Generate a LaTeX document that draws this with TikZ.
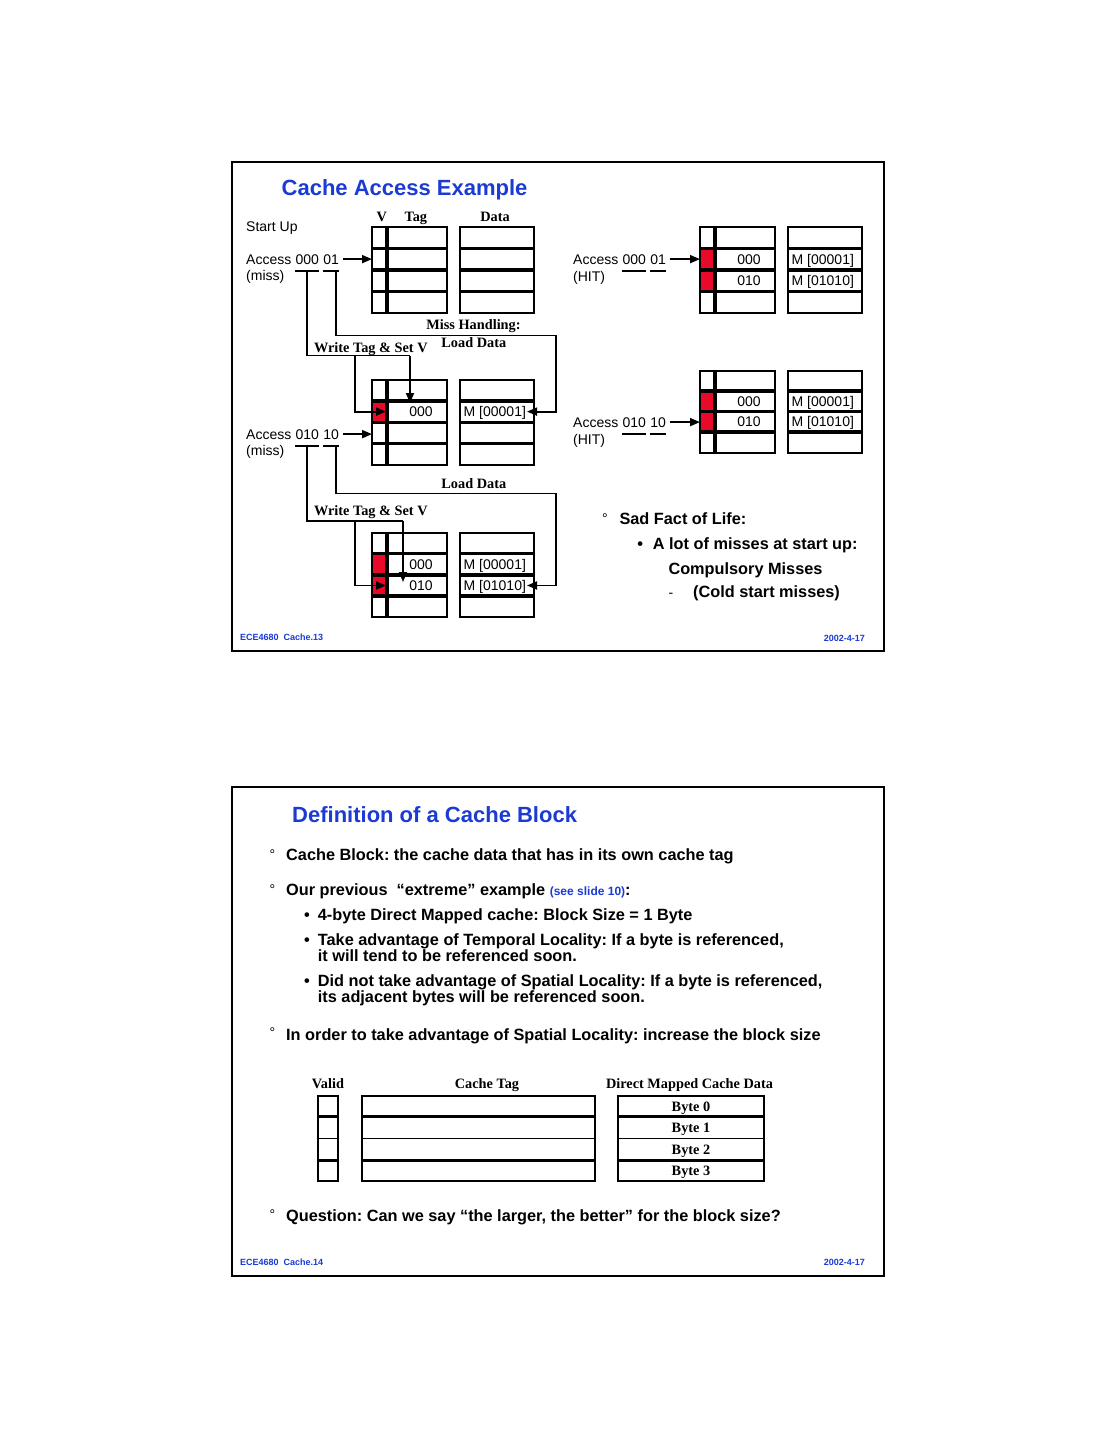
\documentclass[tikz,border=0pt]{standalone}
\usepackage{fontspec}
\setmainfont{Liberation Sans}
\newfontfamily\tms{Liberation Serif}
\usetikzlibrary{arrows.meta,positioning}
\definecolor{slideblue}{RGB}{28,58,212}
\definecolor{vred}{RGB}{232,10,40}
\frenchspacing

\tikzset{
  lbl/.style={inner sep=0pt,text depth=0pt,font=\fontsize{14}{16}\selectfont},
  bits/.style={lbl,outer ysep=7pt},
  hdr/.style={inner sep=0pt,text depth=0pt,font=\fontsize{14.3}{16}\selectfont\tms\bfseries},
  body/.style={inner sep=0pt,anchor=base west,font=\fontsize{16.3}{18}\selectfont\bfseries},
  dot/.style={inner sep=0pt,anchor=base west,font=\fontsize{14}{16}\selectfont},
  ttl/.style={inner sep=0pt,anchor=base west,text=slideblue,font=\fontsize{22}{24}\selectfont\bfseries},
  foot/.style={inner sep=0pt,text depth=0pt,text=slideblue,font=\fontsize{9}{10}\selectfont\bfseries},
  wire/.style={line width=1.8pt},
  arr/.style={wire,-{Triangle[length=10pt,width=8pt]}},
  slide/.style={line width=2pt},
  cellbox/.style={line width=2pt},
  rowline/.style={line width=3.5pt},
}

% cache table: name, left, top, row height, valid rows (0 = none)
\newcommand{\cachetab}[5]{%
  \foreach \r in {#5}{\ifnum\r>0 \fill[vred] (#2,#3+\r*#4-#4) rectangle (#2+15,#3+\r*#4);\fi}
  \foreach \r in {1,2,3}{
    \draw[rowline] (#2,#3+\r*#4) -- (#2+75,#3+\r*#4);
    \draw[rowline] (#2+88,#3+\r*#4) -- (#2+162,#3+\r*#4);}
  \draw[rowline,line width=4pt] (#2+15,#3) -- (#2+15,#3+4*#4);
  \draw[cellbox] (#2,#3) rectangle (#2+75,#3+4*#4);
  \draw[cellbox] (#2+88,#3) rectangle (#2+162,#3+4*#4);
  \foreach \r in {1,...,4}{
    \coordinate (#1w\r) at (#2,#3+\r*#4-.5*#4);
    \coordinate (#1v\r) at (#2+14,#3+\r*#4-.5*#4);
    \coordinate (#1t\r) at (#2+49,#3+\r*#4-.5*#4);
    \coordinate (#1d\r) at (#2+91.5,#3+\r*#4-.5*#4);
    \coordinate (#1e\r) at (#2+155,#3+\r*#4-.5*#4);}
}

\begin{document}
\begin{tikzpicture}[x=1pt,y=-1pt]
\fill[white] (0,0) rectangle (1113,1440);
\useasboundingbox (0,0) rectangle (1113,1440);

% ---- slide 13 ----
\draw[slide] (232,162) rectangle (883.5,650.5);
\node[ttl] (ttl1) at (281.5,195) {Cache Access Example};

\cachetab{t1}{372}{227}{21.5}{0}
\cachetab{t2}{372}{379.5}{21.4}{2}
\cachetab{t3}{372}{532.5}{21.2}{2,3}
\cachetab{t4}{700}{227}{21.5}{2,3}
\cachetab{t5}{700}{370.5}{20.5}{2,3}

\foreach \tb/\rw/\tg/\dt in {t2/2/000/00001,t3/2/000/00001,t3/3/010/01010,t4/2/000/00001,t4/3/010/01010,t5/2/000/00001,t5/3/010/01010}{
  \node[lbl] (\tb tag\rw) at (\tb t\rw) {\tg};
  \node[lbl,anchor=west] (\tb dat\rw) at (\tb d\rw) {M [\dt]};
}

\node[hdr] (hv) at (381.7,216.7) {V};
\node[hdr] (htag) at (415.8,216.7) {Tag};
\node[hdr] (hdata) at (495,216.7) {Data};

\node[lbl,anchor=base west] (su) at (246,231) {Start Up};

% first access, miss
\node[lbl,anchor=base west] (acc1) at (246,264) {Access};
\node[bits,base right=3.9pt of acc1] (acc1a) {000};
\node[bits,base right=3.9pt of acc1a] (acc1b) {01};
\node[lbl,anchor=base west] (res1) at (246,280.5) {(miss)};
\draw[wire] (acc1a.south west) -- (acc1a.south east);
\draw[wire] (acc1b.south west) -- (acc1b.south east);
\draw[arr,shorten <=4pt] (acc1b.east) -- (acc1b.east -| t1w2);

\coordinate (mh1) at (556,335.5);
\coordinate (wt1) at (410,355.5);
\coordinate (wb1) at (355,355.5);
\draw[arr] ([xshift=5pt]acc1b.south) |- (mh1) |- (t2e2);
\draw[wire] (acc1a.south) |- (wt1);
\draw[arr,shorten >=8.6pt] (wt1) -- (wt1 |- t2t2);
\draw[arr] (wb1) |- (t2v2);
\node[hdr] (mhl) at (473.5,325) {Miss Handling:};
\node[hdr] (ldl1) at (473.8,342.7) {Load Data};
\node[hdr] (wtl1) at (370.8,347.7) {Write Tag \& Set V};

% second access, miss
\node[lbl,anchor=base west] (acc2) at (246,439) {Access};
\node[bits,base right=3.9pt of acc2] (acc2a) {010};
\node[bits,base right=3.9pt of acc2a] (acc2b) {10};
\node[lbl,anchor=base west] (res2) at (246,455.5) {(miss)};
\draw[wire] (acc2a.south west) -- (acc2a.south east);
\draw[wire] (acc2b.south west) -- (acc2b.south east);
\draw[arr,shorten <=4pt] (acc2b.east) -- (acc2b.east -| t2w3);

\coordinate (ld2) at (556,493.5);
\coordinate (wt2) at (403,521);
\coordinate (wb2) at (355,521);
\draw[arr] ([xshift=5pt]acc2b.south) |- (ld2) |- (t3e3);
\draw[wire] (acc2a.south) |- (wt2);
\draw[arr,shorten >=3.5pt] (wt2) -- (wt2 |- t3t3);
\draw[arr] (wb2) |- (t3v3);
\node[hdr] (ldl2) at (473.8,483.3) {Load Data};
\node[hdr] (wtl2) at (370.8,510.7) {Write Tag \& Set V};

% hits
\node[lbl,anchor=base west] (acc4) at (573,264) {Access};
\node[bits,base right=3.9pt of acc4] (acc4a) {000};
\node[bits,base right=3.9pt of acc4a] (acc4b) {01};
\node[lbl,anchor=base west] (res4) at (573,281) {(HIT)};
\draw[wire] (acc4a.south west) -- (acc4a.south east);
\draw[wire] (acc4b.south west) -- (acc4b.south east);
\draw[arr,shorten <=4pt] (acc4b.east) -- (acc4b.east -| t4w2);

\node[lbl,anchor=base west] (acc5) at (573,427) {Access};
\node[bits,base right=3.9pt of acc5] (acc5a) {010};
\node[bits,base right=3.9pt of acc5a] (acc5b) {10};
\node[lbl,anchor=base west] (res5) at (573,444) {(HIT)};
\draw[wire] (acc5a.south west) -- (acc5a.south east);
\draw[wire] (acc5b.south west) -- (acc5b.south east);
\draw[arr,shorten <=4pt] (acc5b.east) -- (acc5b.east -| t5w3);

\node[dot] (sd0) at (602,523) {°};
\node[body] (sd1) at (619.3,524.5) {Sad Fact of Life:};
\node[body] (sd2b) at (637.2,549) {•};
\node[body] (sd2) at (652.7,549) {A lot of misses at start up:};
\node[body] (sd3) at (668.3,574) {Compulsory Misses};
\node[lbl,anchor=base west] (sd4b) at (668.5,597.5) {-};
\node[body] (sd4) at (693,597.5) {(Cold start misses)};

\node[foot,anchor=west] (f1l) at (240,637.5) {ECE4680~~Cache.13};
\node[foot,anchor=east] (f1r) at (865,638.5) {2002-4-17};

% ---- slide 14 ----
\draw[slide] (232,787) rectangle (883.5,1275.5);
\node[ttl] (ttl2) at (292,822) {Definition of a Cache Block};

\foreach \y/\n in {859/1,894/2,1037.5/3,1219.5/4}{\node[dot] (dg\n) at (269.5,\y) {°};}
\node[body] (p1) at (286,860.5) {Cache Block: the cache data that has in its own cache tag};
\node[body] (p2) at (286,895.5) {Our previous~~“extreme” example {\color{slideblue}\fontsize{12}{14}\selectfont(see slide 10)}:};
\foreach \y/\n in {920.5/1,945.5/2,986/3}{\node[body] (bl\n) at (303.8,\y) {•};}
\node[body] (p3) at (317.7,920.5) {4-byte Direct Mapped cache: Block Size = 1 Byte};
\node[body] (p4) at (317.7,945.5) {Take advantage of Temporal Locality: If a byte is referenced,};
\node[body] (p4c) at (317.7,961) {it will tend to be referenced soon.};
\node[body] (p5) at (317.7,986) {Did not take advantage of Spatial Locality: If a byte is referenced,};
\node[body] (p5c) at (317.7,1002) {its adjacent bytes will be referenced soon.};
\node[body] (p6) at (286,1040) {In order to take advantage of Spatial Locality: increase the block size};

\node[hdr] (hval) at (328,1084) {Valid};
\node[hdr] (hct) at (487,1084) {Cache Tag};
\node[hdr] (hdm) at (689.5,1084) {Direct Mapped Cache Data};
\foreach \a/\b in {318/337.5,361.5/595,618/764}{
  \draw[line width=3pt] (\a,1116.7) -- (\b,1116.7);
  \draw[line width=1.2pt] (\a,1138.5) -- (\b,1138.5);
  \draw[line width=3pt] (\a,1160.3) -- (\b,1160.3);
  \draw[cellbox] (\a,1096) rectangle (\b,1180.7);
}
\foreach \i/\y in {0/1106.3,1/1127.6,2/1149.4,3/1170.5}{\node[hdr] (byte\i) at (691,\y) {Byte \i};}

\node[body] (p7) at (286,1221.5) {Question: Can we say “the larger, the better” for the block size?};

\node[foot,anchor=west] (f2l) at (240,1262.7) {ECE4680~~Cache.14};
\node[foot,anchor=east] (f2r) at (865,1262.7) {2002-4-17};
\end{tikzpicture}
\end{document}
